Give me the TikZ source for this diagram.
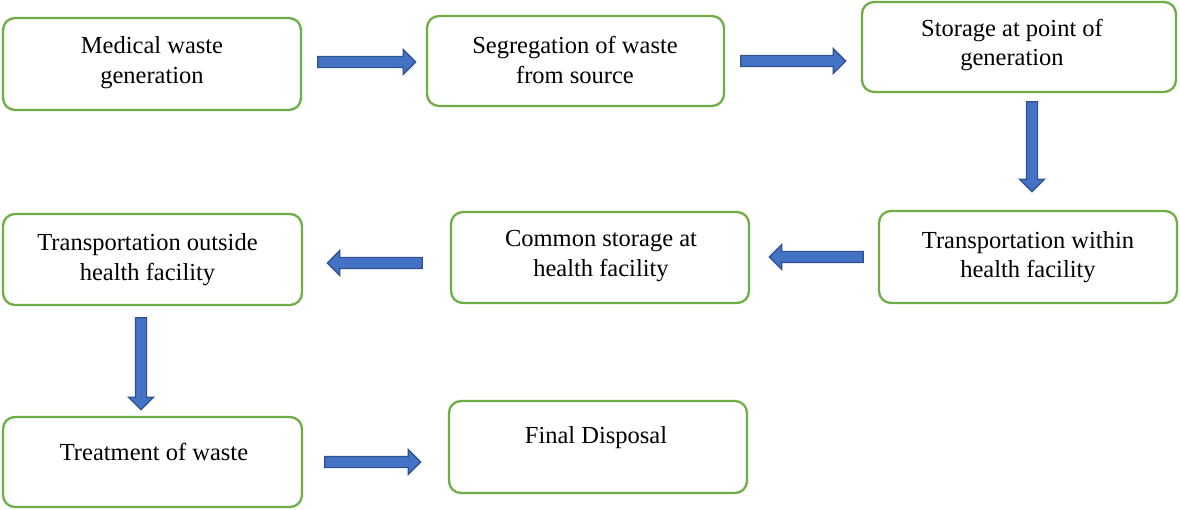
\documentclass[tikz,border=0pt]{standalone}
\usepackage{fontspec}
\setmainfont{Liberation Serif}
\usetikzlibrary{shapes.arrows}
\definecolor{boxgreen}{RGB}{112,173,71}
\definecolor{arrfill}{RGB}{68,114,196}
\definecolor{arrline}{RGB}{47,82,143}
\tikzset{
  stepbox/.style={draw=boxgreen, line width=2.3pt, rounded corners=12pt, fill=white, inner sep=0pt},
  txt/.style={align=center, font=\fontsize{24.5}{29.5}\selectfont, inner sep=0pt, text=black},
  blockarrow/.style={single arrow, fill=arrfill, draw=arrline, line width=1.2pt,
    inner sep=5pt, minimum width=22pt, single arrow head extend=7pt,
    single arrow tip angle=90, anchor=center}
}
\begin{document}
\begin{tikzpicture}[x=1pt,y=-1pt]
\useasboundingbox (0,0) rectangle (1180,510);
% boxes
\node[stepbox, minimum width=298pt, minimum height=92pt] (b1) at (152,64) {};
\node[stepbox, minimum width=297pt, minimum height=90pt] (b2) at (575.5,61) {};
\node[stepbox, minimum width=314pt, minimum height=90pt] (b3) at (1019,47) {};
\node[stepbox, minimum width=298pt, minimum height=92pt] (b4) at (1028,257) {};
\node[stepbox, minimum width=298pt, minimum height=91pt] (b5) at (600,257.5) {};
\node[stepbox, minimum width=299pt, minimum height=91pt] (b6) at (152.5,259.5) {};
\node[stepbox, minimum width=299pt, minimum height=90pt] (b7) at (152.5,462) {};
\node[stepbox, minimum width=298pt, minimum height=92pt] (b8) at (598,447) {};
% texts
\node[txt] (t1) at (152,62.5) {Medical waste\\generation};
\node[txt] (t2) at (575,60) {Segregation of waste\\from source};
\node[txt] (t3) at (1012,45) {Storage at point of\\generation};
\node[txt] (t4) at (1028,257) {Transportation within\\health facility};
\node[txt] (t5) at (601,256) {Common storage at\\health facility};
\node[txt] (t6) at (147.5,259.5) {Transportation outside\\health facility};
\node[txt] (t7) at (154,452) {Treatment of waste};
\node[txt] (t8) at (596,438) {Final Disposal};
% arrows
\node[blockarrow, minimum height=98pt] (a1) at (364,62) {};
\node[blockarrow, minimum height=105pt] (a2) at (790.5,61) {};
\node[blockarrow, minimum height=90pt, rotate=-90] (a3) at (1032,144) {};
\node[blockarrow, minimum height=94pt, rotate=180] (a4) at (819,257) {};
\node[blockarrow, minimum height=95pt, rotate=180] (a5) at (377.5,263) {};
\node[blockarrow, minimum height=92pt, rotate=-90] (a6) at (141,361) {};
\node[blockarrow, minimum height=96pt] (a7) at (370,462) {};
\end{tikzpicture}
\end{document}
